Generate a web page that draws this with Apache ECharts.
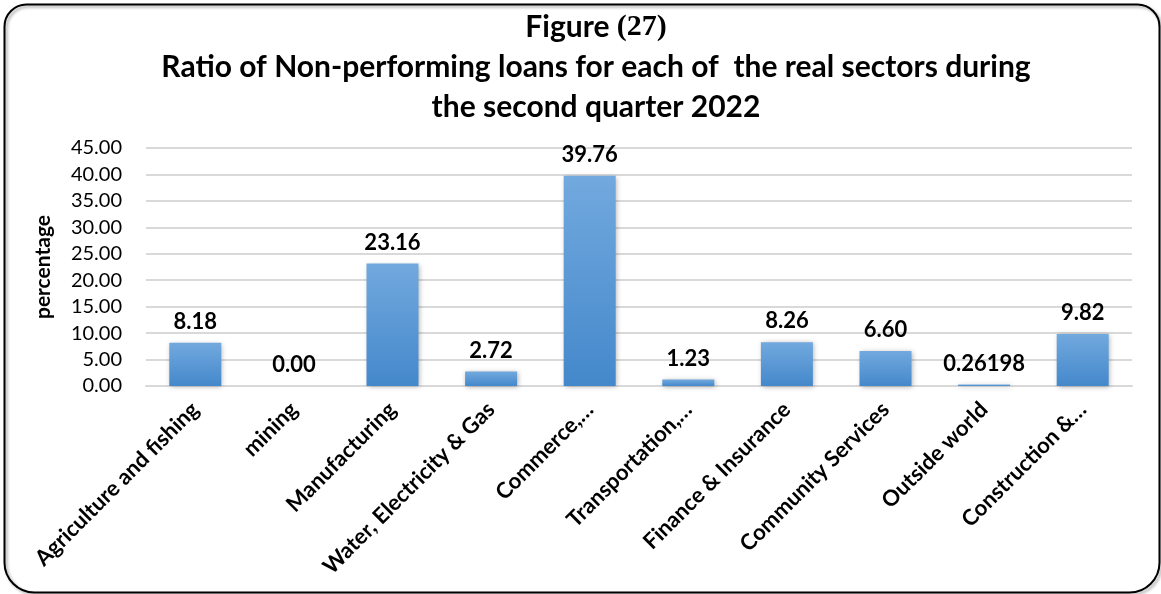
<!DOCTYPE html>
<html>
<head>
<meta charset="utf-8">
<style>
  html, body { margin: 0; padding: 0; background: #ffffff; }
  #chart { width: 1161px; height: 594px; }
</style>
<script src="https://cdn.jsdelivr.net/npm/echarts@6/dist/echarts.min.js"></script>
</head>
<body>
<div id="chart"></div>
<script>
// Sector names as printed under the axis
var sectors = [
  'Agriculture and fishing',
  'mining',
  'Manufacturing',
  'Water, Electricity & Gas',
  'Commerce,\u2026',
  'Transportation,\u2026',
  'Finance & Insurance',
  'Community Services',
  'Outside world',
  'Construction &\u2026'
];

// Non-performing loan ratio (%) per sector
var nplRatio = [8.18, 0.00, 23.16, 2.72, 39.76, 1.23, 8.26, 6.60, 0.26198, 9.82];

var figureWord = 'Figure';
var figureNumber = '(27)';
var titleLines = [
  'Ratio of Non-performing loans for each of  the real sectors during',
  'the second quarter 2022'
];

var FONT = 'Lato, "Open Sans", sans-serif';

// two decimals unless the value carries more precision
function fmt(v) {
  return Math.round(v * 100) / 100 === v ? v.toFixed(2) : String(v);
}

var chart = echarts.init(document.getElementById('chart'), null, { renderer: 'canvas' });

chart.setOption({
  animation: false,
  backgroundColor: '#ffffff',
  graphic: [{
    type: 'rect',
    left: 2, top: 2,
    shape: { width: 1155, height: 588, r: [22, 22, 30, 30] },
    style: { fill: 'none', stroke: '#000000', lineWidth: 2,
             shadowColor: 'rgba(0,0,0,0.35)', shadowBlur: 3, shadowOffsetX: 2, shadowOffsetY: 2 },
    z: 100
  }],
  title: {
    text: '{t|' + figureWord + ' }{n|' + figureNumber + '}\n' +
          titleLines.map(function (s) { return '{t|' + s + '}'; }).join('\n'),
    left: 591,
    textAlign: 'center',
    top: 2,
    textStyle: {
      fontFamily: FONT, fontWeight: 'bold', fontSize: 30,
      color: '#000000', lineHeight: 40,
      rich: {
        t: { fontFamily: FONT, fontWeight: 'bold', fontSize: 30, color: '#000000', lineHeight: 40 },
        n: { fontFamily: '"Liberation Serif", serif', fontWeight: 'bold', fontSize: 30, color: '#000000', lineHeight: 40 }
      }
    }
  },
  grid: { left: 146, right: 29, top: 148, bottom: 208, containLabel: false },
  xAxis: {
    type: 'category',
    data: sectors,
    axisLine: { show: true, lineStyle: { color: '#d9d9d9', width: 2 } },
    axisTick: { show: false },
    axisLabel: {
      interval: 0,
      rotate: 45,
      margin: 20,
      fontFamily: FONT, fontWeight: 'bold', fontSize: 22, color: '#000000'
    }
  },
  yAxis: {
    type: 'value',
    min: 0, max: 45, interval: 5,
    name: 'percentage',
    nameLocation: 'middle',
    nameGap: 92,
    nameTextStyle: { fontFamily: FONT, fontWeight: 'bold', fontSize: 21, color: '#000000' },
    axisLine: { show: false },
    axisTick: { show: false },
    splitLine: { lineStyle: { color: '#d9d9d9', width: 2 } },
    axisLabel: {
      margin: 24,
      formatter: function (v) { return v.toFixed(2); },
      fontFamily: FONT, fontSize: 20, color: '#000000'
    }
  },
  series: [{
    type: 'bar',
    data: nplRatio,
    barWidth: 52,
    itemStyle: {
      color: new echarts.graphic.LinearGradient(0, 0, 0, 1, [
        { offset: 0, color: '#72a9de' },
        { offset: 1, color: '#4488cb' }
      ]),
      shadowColor: 'rgba(0,0,0,0.3)',
      shadowBlur: 5,
      shadowOffsetX: 1,
      shadowOffsetY: 1
    },
    label: {
      show: true,
      position: 'top',
      distance: 10,
      formatter: function (p) { return fmt(p.value); },
      fontFamily: FONT, fontWeight: 'bold', fontSize: 22, color: '#000000'
    }
  }]
});
</script>
</body>
</html>
